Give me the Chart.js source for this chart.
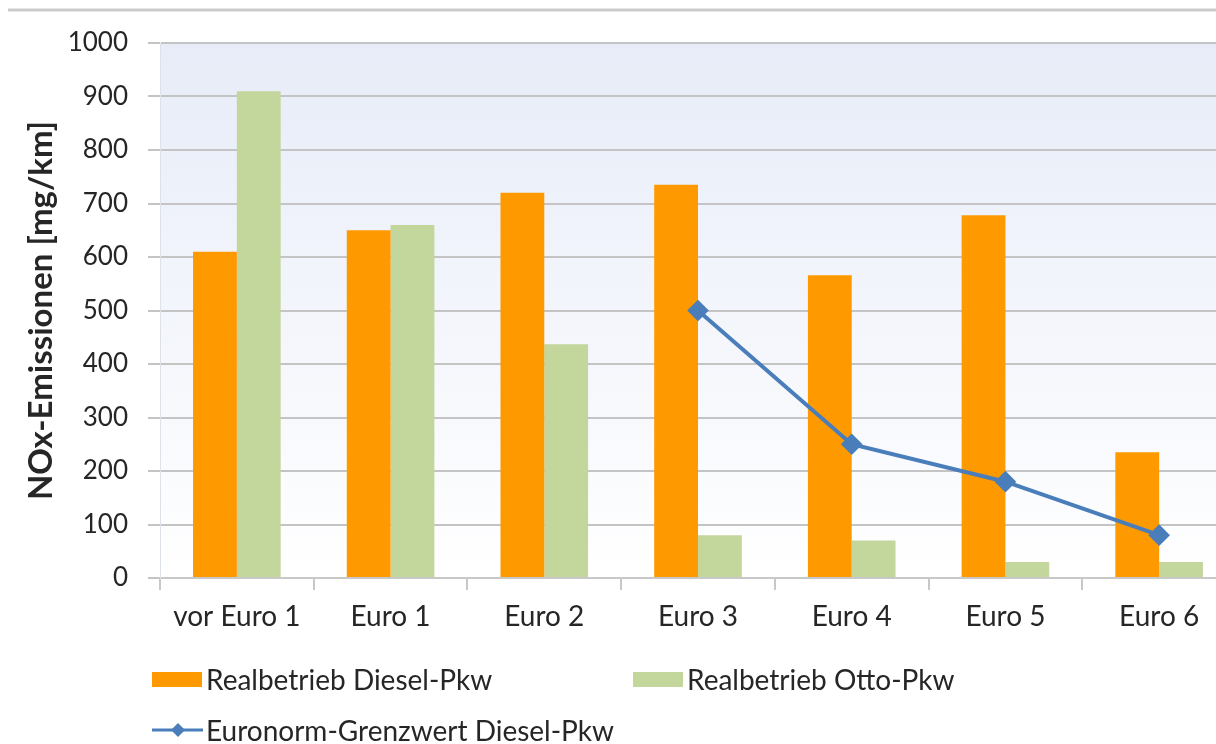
<!DOCTYPE html>
<html>
<head>
<meta charset="utf-8">
<script src="https://cdn.jsdelivr.net/npm/chart.js@4/dist/chart.umd.min.js"></script>
<style>
  html, body { margin: 0; padding: 0; background: #ffffff; overflow: hidden; }
  #wrap { position: relative; width: 1216px; height: 744px; overflow: hidden; }
  #c { position: absolute; left: 0; top: 0; }
  .lg { position: absolute; font-family: Lato, "Open Sans", sans-serif; font-size: 28px; color: #262626; white-space: nowrap; line-height: 32px; }
  .lg .box { position: absolute; left: 0; top: 9px; width: 50px; height: 15px; }
  .lg .txt { position: absolute; left: 54px; top: 0; }
</style>
</head>
<body>
<div id="wrap">
  <canvas id="c" width="1248" height="744"></canvas>
  <div id="legend"></div>
</div>
<script>
const categories = ["vor Euro 1", "Euro 1", "Euro 2", "Euro 3", "Euro 4", "Euro 5", "Euro 6"];
const dieselReal = [610, 650, 720, 735, 566, 678, 235];
const ottoReal = [910, 660, 437, 80, 70, 30, 30];
const euronormDiesel = [null, null, null, 500, 250, 180, 80];
const yTicks = [0, 100, 200, 300, 400, 500, 600, 700, 800, 900, 1000];
const seriesNames = ["Realbetrieb Diesel-Pkw", "Realbetrieb Otto-Pkw", "Euronorm-Grenzwert Diesel-Pkw"];
const yTitle = "NOx-Emissionen [mg/km]";

const FONT = "Lato, 'Open Sans', sans-serif";
const TEXT = "#262626";

const decor = {
  id: "decor",
  beforeDraw(chart) {
    const { ctx, chartArea: a } = chart;
    ctx.save();
    const g = ctx.createLinearGradient(0, a.top, 0, a.bottom);
    g.addColorStop(0, "#e7ecf8");
    g.addColorStop(1, "#ffffff");
    ctx.fillStyle = g;
    ctx.fillRect(a.left, a.top, a.right - a.left, a.bottom - a.top);
    ctx.strokeStyle = "#cbcbcb";
    ctx.lineWidth = 3;
    ctx.beginPath();
    ctx.moveTo(8, 10);
    ctx.lineTo(chart.width, 10);
    ctx.stroke();
    ctx.restore();
  }
};

const chart = new Chart(document.getElementById("c"), {
  data: {
    labels: categories,
    datasets: [
      { type: "line", label: seriesNames[2], data: euronormDiesel, borderColor: "#4a7ebb", backgroundColor: "#4a7ebb",
        borderWidth: 4, pointStyle: "rectRot", pointRadius: 8, pointHoverRadius: 8, order: 0 },
      { type: "bar", label: seriesNames[0], data: dieselReal, backgroundColor: "#ff9900",
        categoryPercentage: 0.57, barPercentage: 1.0, order: 1 },
      { type: "bar", label: seriesNames[1], data: ottoReal, backgroundColor: "#c3d69b",
        categoryPercentage: 0.57, barPercentage: 1.0, order: 1 }
    ]
  },
  options: {
    responsive: false,
    animation: false,
    layout: { padding: { left: 0, top: 43, right: 4, bottom: 100 } },
    plugins: { legend: { display: false }, tooltip: { enabled: false } },
    scales: {
      x: {
        offset: true,
        grid: { offset: true, drawOnChartArea: false, drawTicks: true, tickLength: 12, color: "#c8c8c8", lineWidth: 2 },
        border: { display: true, color: "#c8c8c8", width: 2 },
        ticks: { color: TEXT, font: { family: FONT, size: 28 }, padding: 10, maxRotation: 0 },
        afterFit(s) { s.height = 66; }
      },
      y: {
        min: 0, max: 1000,
        afterBuildTicks(s) { s.ticks = yTicks.map(v => ({ value: v })); },
        grid: { color: "#c4c4c4", lineWidth: 2, drawTicks: true, tickLength: 12 },
        border: { display: true, color: "#dde2ea", width: 1 },
        ticks: { color: TEXT, font: { family: FONT, size: 26 }, padding: 20, callback: v => String(v) },
        title: { display: true, text: yTitle, color: TEXT, font: { family: FONT, size: 33, weight: "bold" }, padding: { top: 22, bottom: 0 } },
        afterFit(s) { s.width = 160; }
      }
    }
  },
  plugins: [decor]
});

// Legend built from the chart's datasets
const lg = document.getElementById("legend");
const pos = [
  { ds: 1, x: 152, y: 663 },
  { ds: 2, x: 633, y: 663 },
  { ds: 0, x: 152, y: 714 }
];
pos.forEach(p => {
  const d = chart.data.datasets[p.ds];
  const el = document.createElement("div");
  el.className = "lg";
  el.style.left = p.x + "px";
  el.style.top = p.y + "px";
  let mark;
  if (d.type === "line") {
    mark = document.createElement("canvas");
    mark.width = 52; mark.height = 32;
    mark.style.position = "absolute"; mark.style.left = "0px"; mark.style.top = "0px";
    const c = mark.getContext("2d");
    c.strokeStyle = d.borderColor; c.lineWidth = 3;
    c.beginPath(); c.moveTo(0, 16); c.lineTo(51, 16); c.stroke();
    c.fillStyle = d.borderColor;
    c.beginPath(); c.moveTo(26, 9); c.lineTo(33, 16); c.lineTo(26, 23); c.lineTo(19, 16); c.closePath(); c.fill();
  } else {
    mark = document.createElement("div");
    mark.className = "box";
    mark.style.background = d.backgroundColor;
  }
  const t = document.createElement("span");
  t.className = "txt";
  t.textContent = d.label;
  el.appendChild(mark);
  el.appendChild(t);
  lg.appendChild(el);
});
</script>
</body>
</html>
